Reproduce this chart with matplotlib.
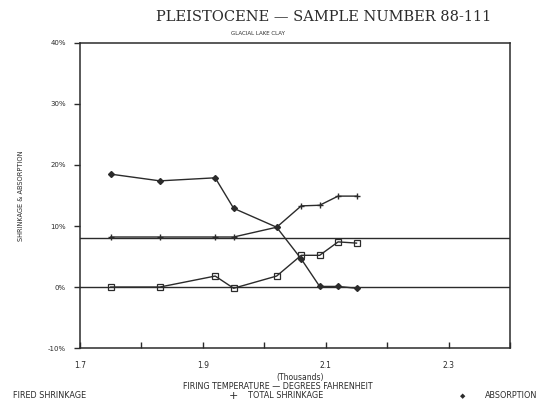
import matplotlib.pyplot as plt
import numpy as np

# Firing temperature (thousands of degrees F)
temps = [1.75, 1.83, 1.92, 1.95, 2.02, 2.06, 2.09, 2.12, 2.15]
fired_shrinkage = [0.0, 0.0, 1.8, -0.2, 1.8, 5.2, 5.2, 7.4, 7.2]
total_shrinkage = [8.2, 8.2, 8.2, 8.2, 9.8, 13.3, 13.4, 14.9, 14.9]
absorption = [18.5, 17.4, 17.9, 12.9, 9.8, 4.6, 0.1, 0.1, -0.2]
ref_levels = [8.0, 0.0]

x_ticks = [1.7, 1.8, 1.9, 2.0, 2.1, 2.2, 2.3, 2.4]
x_labels = ["1.7", "", "1.9", "", "2.1", "", "2.3", ""]
y_ticks = [-10, 0, 10, 20, 30, 40]
y_labels = ["-10%", "0%", "10%", "20%", "30%", "40%"]

ink = "#2b2b2b"
fig = plt.figure(figsize=(5.37, 4.09), dpi=100)
ax = fig.add_axes([0.149, 0.149, 0.801, 0.746])

for lvl in ref_levels:
    ax.axhline(lvl, color=ink, lw=1.0)

ax.plot(temps, fired_shrinkage, color=ink, lw=1.0, marker="s", ms=4,
        mfc="none", mec=ink, mew=0.9)
ax.plot(temps, total_shrinkage, color=ink, lw=1.0, marker="+", ms=5, mew=1.0)
ax.plot(temps, absorption, color=ink, lw=1.0, marker="D", ms=3,
        mfc=ink, mec=ink)

ax.set_xlim(1.7, 2.4)
ax.set_ylim(-10, 40)
ax.set_xticks(x_ticks)
ax.set_xticklabels(x_labels, fontsize=5.5, color=ink)
ax.set_yticks(y_ticks)
ax.set_yticklabels(y_labels, fontsize=5, color=ink)
ax.tick_params(axis="x", direction="in", length=4, width=1, colors=ink, pad=9)
ax.tick_params(axis="y", direction="out", length=4, width=1, colors=ink, pad=6)
for s in ax.spines.values():
    s.set_color(ink)
    s.set_linewidth(1.1)

ax.set_ylabel("SHRINKAGE & ABSORPTION", fontsize=4.8, color=ink, labelpad=17)

fig.text(0.603, 0.958, "PLEISTOCENE \u2014 SAMPLE NUMBER 88-111", ha="center",
         va="center", fontsize=10.5, family="DejaVu Serif", color=ink)
fig.text(0.48, 0.919, "GLACIAL LAKE CLAY", ha="center", va="center",
         fontsize=4, color=ink)
fig.text(0.559, 0.076, "(Thousands)", ha="center", va="center",
         fontsize=5.5, color=ink)
fig.text(0.517, 0.054, "FIRING TEMPERATURE \u2014 DEGREES FAHRENHEIT",
         ha="center", va="center", fontsize=5.8, color=ink)

# legend row
fig.text(0.024, 0.032, "FIRED SHRINKAGE", ha="left", va="center",
         fontsize=5.9, color=ink)
fig.text(0.434, 0.032, "+", ha="center", va="center", fontsize=8, color=ink)
fig.text(0.462, 0.032, "TOTAL SHRINKAGE", ha="left", va="center",
         fontsize=5.9, color=ink)
fig.text(0.862, 0.032, "\u25c6", ha="center", va="center", fontsize=5, color=ink)
fig.text(0.903, 0.032, "ABSORPTION", ha="left", va="center",
         fontsize=5.9, color=ink)

fig.savefig("out.png", dpi=100)
